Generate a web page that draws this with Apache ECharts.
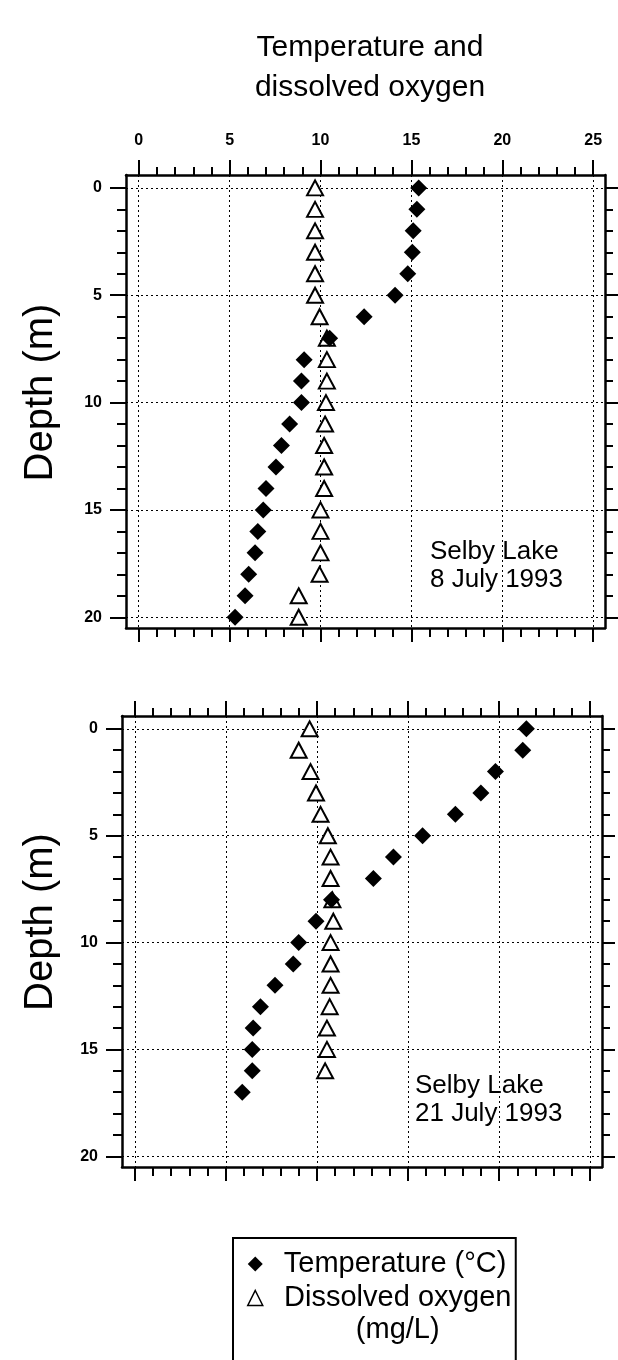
<!DOCTYPE html>
<html><head><meta charset="utf-8">
<script src="https://cdn.jsdelivr.net/npm/echarts@6/dist/echarts.min.js"></script>
<style>html,body{margin:0;padding:0;background:#fff}#c{width:618px;height:1360px}</style>
</head><body><div id="c"></div>
<script>
// ---- data ----
const depthTop = [0,1,2,3,4,5,6,7,8,9,10,11,12,13,14,15,16,17,18,19,20];
const tempTop = [15.4,15.3,15.1,15.05,14.8,14.1,12.4,10.5,9.1,8.95,8.95,8.3,7.85,7.55,7.0,6.85,6.55,6.4,6.05,5.85,5.3];
const oxyTop = [9.7,9.7,9.7,9.7,9.7,9.7,9.95,10.35,10.35,10.35,10.3,10.25,10.2,10.2,10.2,10.0,10.0,10.0,9.95,8.8,8.8];

const depthTempBottom = [0,1,2,3,4,5,6,7,8,9,10,11,12,13,14,15,16,17];
const tempBottom = [21.5,21.3,19.8,19.0,17.6,15.8,14.2,13.1,10.8,9.95,9.0,8.7,7.7,6.9,6.5,6.45,6.45,5.9];
const depthOxyBottom = [0,1,2,3,4,5,6,7,8,9,10,11,12,13,14,15,16];
const oxyBottom = [9.6,9.0,9.65,9.95,10.2,10.6,10.75,10.75,10.85,10.9,10.75,10.75,10.75,10.7,10.55,10.55,10.45];

const xMajorTicks = [0,5,10,15,20,25];
const xMinorTicks = [0,1,2,3,4,5,6,7,8,9,10,11,12,13,14,15,16,17,18,19,20,21,22,23,24,25];
const yMajorTicks = [0,5,10,15,20];
const yMinorTicks = [0,1,2,3,4,5,6,7,8,9,10,11,12,13,14,15,16,17,18,19,20];

const tempName = 'Temperature (°C)';
const oxyName = 'Dissolved oxygen (mg/L)';

// ---- styling ----
const FONT = '"Liberation Sans", Arial, Helvetica, sans-serif';
const X_MIN = -0.7, X_MAX = 25.65, Y_MIN = -0.6, Y_MAX = 20.5;
const BLACK = '#000';
const frameLine = {onZero:false, show:true, lineStyle:{color:BLACK, width:2.5}};
const noLine = {onZero:false, show:false};
const gridDash = {show:true, lineStyle:{color:BLACK, width:1, type:[2,3]}};
const tickLabel = {color:BLACK, fontSize:16, fontFamily:FONT, fontWeight:'bold'};

function xAxesFor(g, showLabels) {
  const base = {gridIndex:g, type:'value', min:X_MIN, max:X_MAX};
  return [
    Object.assign({}, base, {position:'top', axisLine:frameLine,
      axisTick:{show:true, customValues:xMajorTicks, length:15, lineStyle:{color:BLACK, width:2}},
      axisLabel:Object.assign({show:showLabels, customValues:xMajorTicks, margin:26}, tickLabel),
      splitLine:gridDash}),
    Object.assign({}, base, {position:'top', axisLine:noLine,
      axisTick:{show:true, customValues:xMinorTicks, length:8, lineStyle:{color:BLACK, width:2}},
      axisLabel:{show:false}, splitLine:{show:false}}),
    Object.assign({}, base, {position:'bottom', axisLine:frameLine,
      axisTick:{show:true, customValues:xMajorTicks, length:14, lineStyle:{color:BLACK, width:2}},
      axisLabel:{show:false}, splitLine:{show:false}}),
    Object.assign({}, base, {position:'bottom', axisLine:noLine,
      axisTick:{show:true, customValues:xMinorTicks, length:9, lineStyle:{color:BLACK, width:2}},
      axisLabel:{show:false}, splitLine:{show:false}})
  ];
}
function yAxesFor(g, gap, shift) {
  const base = {gridIndex:g, type:'value', min:Y_MIN, max:Y_MAX, inverse:true};
  return [
    Object.assign({}, base, {position:'left', axisLine:frameLine,
      name:'Depth (m)', nameLocation:'middle', nameGap:gap,
      nameTextStyle:{fontSize:40, fontFamily:FONT, color:BLACK, padding:[0,0,0,shift]},
      axisTick:{show:true, customValues:yMajorTicks, length:16, lineStyle:{color:BLACK, width:2}},
      axisLabel:Object.assign({show:true, customValues:yMajorTicks, margin:24}, tickLabel),
      splitLine:gridDash}),
    Object.assign({}, base, {position:'left', axisLine:noLine,
      axisTick:{show:true, customValues:yMinorTicks, length:9, lineStyle:{color:BLACK, width:2}},
      axisLabel:{show:false}, splitLine:{show:false}}),
    Object.assign({}, base, {position:'right', axisLine:frameLine,
      axisTick:{show:true, customValues:yMajorTicks, length:13, lineStyle:{color:BLACK, width:2}},
      axisLabel:{show:false}, splitLine:{show:false}}),
    Object.assign({}, base, {position:'right', axisLine:noLine,
      axisTick:{show:true, customValues:yMinorTicks, length:8, lineStyle:{color:BLACK, width:2}},
      axisLabel:{show:false}, splitLine:{show:false}})
  ];
}

function pairs(xs, ys) { return xs.map((v, i) => [v, ys[i]]); }

const tempStyle = {color:BLACK, opacity:1};
const oxyStyle = {color:'#fff', borderColor:BLACK, borderWidth:2, opacity:1};

const option = {
  animation:false,
  backgroundColor:'#fff',
  grid:[
    {left:126, right:13, top:175, height:453},
    {left:122, right:16, top:716, height:451}
  ],
  xAxis: xAxesFor(0, true).concat(xAxesFor(1, false)),
  yAxis: yAxesFor(0, 65, 18).concat(yAxesFor(1, 61, 39)),
  legend:{
    orient:'vertical', left:233, top:1238, height:300,
    padding:[10,2,24,14],
    borderColor:BLACK, borderWidth:2,
    itemWidth:15, itemHeight:15, itemGap:-30,
    data:[
      {name:tempName, icon:'diamond'},
      {name:oxyName, icon:'triangle', itemStyle:{borderWidth:1.5}}
    ],
    formatter: function(n){
      return n === oxyName ? '{e| }\n{c|Dissolved oxygen}\n{c|(mg/L)}' : '{t|' + n + '}';
    },
    textStyle:{color:BLACK, fontSize:29, fontFamily:FONT, lineHeight:32,
      rich:{
        e:{fontSize:29, fontFamily:FONT, lineHeight:32, padding:[0,0,0,14]},
        c:{fontSize:29, fontFamily:FONT, lineHeight:32, width:232, align:'center', color:BLACK, padding:[0,0,0,14]},
        t:{fontSize:29, fontFamily:FONT, lineHeight:32, color:BLACK, padding:[0,0,0,16]}
      }}
  },
  graphic:[
    {type:'text', x:370, y:48, style:{text:'Temperature and', font:'30px ' + FONT, fill:BLACK, align:'center', verticalAlign:'middle'}},
    {type:'text', x:370, y:88, style:{text:'dissolved oxygen', font:'30px ' + FONT, fill:BLACK, align:'center', verticalAlign:'middle'}},
    {type:'text', x:430, y:552, style:{text:'Selby Lake', font:'26px ' + FONT, fill:BLACK, align:'left', verticalAlign:'middle'}},
    {type:'text', x:430, y:580, style:{text:'8 July 1993', font:'26px ' + FONT, fill:BLACK, align:'left', verticalAlign:'middle'}},
    {type:'text', x:415, y:1086, style:{text:'Selby Lake', font:'26px ' + FONT, fill:BLACK, align:'left', verticalAlign:'middle'}},
    {type:'text', x:415, y:1114, style:{text:'21 July 1993', font:'26px ' + FONT, fill:BLACK, align:'left', verticalAlign:'middle'}}
  ],
  series:[
    {name:oxyName, type:'scatter', xAxisIndex:0, yAxisIndex:0, symbol:'triangle', symbolSize:[16,15], itemStyle:oxyStyle, z:3, data:pairs(oxyTop, depthTop)},
    {name:tempName, type:'scatter', xAxisIndex:0, yAxisIndex:0, symbol:'diamond', symbolSize:17, itemStyle:tempStyle, z:4, data:pairs(tempTop, depthTop)},
    {name:oxyName, type:'scatter', xAxisIndex:4, yAxisIndex:4, symbol:'triangle', symbolSize:[16,15], itemStyle:oxyStyle, z:3, data:pairs(oxyBottom, depthOxyBottom)},
    {name:tempName, type:'scatter', xAxisIndex:4, yAxisIndex:4, symbol:'diamond', symbolSize:17, itemStyle:tempStyle, z:4, data:pairs(tempBottom, depthTempBottom)}
  ]
};

const chart = echarts.init(document.getElementById('c'), null, {renderer:'canvas'});
chart.setOption(option);
</script>
</body></html>
